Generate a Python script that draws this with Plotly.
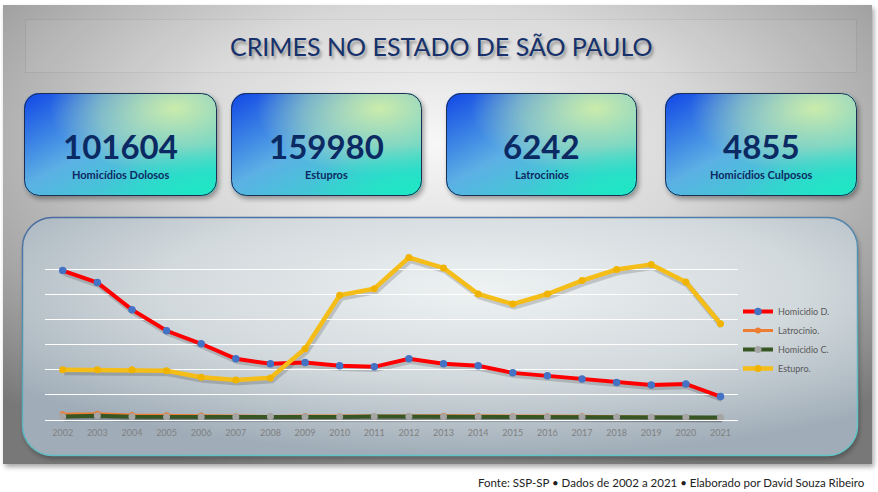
import base64
import plotly.graph_objects as go

years = list(range(2002, 2022))
homicidio_d = [11920, 10960, 8800, 7120, 6080, 4880, 4480, 4590, 4320, 4240,
               4880, 4480, 4320, 3760, 3520, 3280, 2990, 2800, 2880, 1870]
latrocinio = [460, 500, 400, 370, 350, 300, 280, 320, 300, 290,
              320, 340, 340, 300, 290, 300, 250, 230, 200, 180]
homicidio_c = [270, 330, 250, 240, 230, 230, 280, 250, 240, 280,
               280, 250, 260, 230, 240, 240, 230, 220, 210, 200]
estupro = [4000, 4000, 4000, 3920, 3410, 3200, 3360, 5680, 9950, 10480,
           12960, 12130, 10050, 9250, 10050, 11120, 12000, 12400, 11010, 7680]

kpi_values = ["101604", "159980", "6242", "4855"]
kpi_labels = ["Homicídios Dolosos", "Estupros", "Latrocinios", "Homicídios Culposos"]

title_text = "CRIMES NO ESTADO DE SÃO PAULO"
footer_text = "Fonte: SSP-SP \u2022 Dados de 2002 a 2021 \u2022 Elaborado por David Souza Ribeiro"

W, H = 878, 492
cards = [(24, 93, 193, 103), (231, 93, 191, 103), (446, 93, 191, 103), (665, 93, 192, 103)]

card_svg = ""
for (cx, cy, cw, ch) in cards:
    card_svg += f'<rect x="{cx+2}" y="{cy+3}" width="{cw}" height="{ch}" rx="15" fill="#000" opacity="0.35" filter="url(#blur)"/>'
    card_svg += f'<rect x="{cx}" y="{cy}" width="{cw}" height="{ch}" rx="15" fill="url(#cardbase)"/>'
    card_svg += f'<rect x="{cx}" y="{cy}" width="{cw}" height="{ch}" rx="15" fill="url(#cardglow)"/>'
    card_svg += f'<rect x="{cx}" y="{cy}" width="{cw}" height="{ch}" rx="15" fill="url(#cardteal)"/>'
    card_svg += f'<rect x="{cx+0.5}" y="{cy+0.5}" width="{cw-1}" height="{ch-1}" rx="15" fill="none" stroke="#1b2f55" stroke-width="1"/>'

svg = f'''<svg xmlns="http://www.w3.org/2000/svg" width="{W}" height="{H}" viewBox="0 0 {W} {H}">
<defs>
<radialGradient id="bg" cx="0.5" cy="0.3" r="0.75">
<stop offset="0" stop-color="#f7f7f7"/>
<stop offset="0.4" stop-color="#d8d8d8"/>
<stop offset="0.75" stop-color="#a5a5a5"/>
<stop offset="1" stop-color="#787878"/>
</radialGradient>
<linearGradient id="cardbase" x1="0" y1="0" x2="1" y2="1">
<stop offset="0" stop-color="#1046e6"/>
<stop offset="0.45" stop-color="#5cb0e4"/>
<stop offset="1" stop-color="#22e4c4"/>
</linearGradient>
<radialGradient id="cardglow" cx="0.78" cy="0.15" r="0.65">
<stop offset="0" stop-color="#d0efa8" stop-opacity="0.95"/>
<stop offset="0.6" stop-color="#bce8b0" stop-opacity="0.5"/>
<stop offset="1" stop-color="#bce8b0" stop-opacity="0"/>
</radialGradient>
<radialGradient id="cardteal" cx="0.9" cy="1.0" r="0.5">
<stop offset="0" stop-color="#1ee8c4" stop-opacity="0.9"/>
<stop offset="1" stop-color="#1ee8c4" stop-opacity="0"/>
</radialGradient>
<radialGradient id="chartbg" cx="0.55" cy="0.3" r="0.7">
<stop offset="0" stop-color="#eef2f3"/>
<stop offset="0.55" stop-color="#d2d9dc"/>
<stop offset="1" stop-color="#a0adb8"/>
</radialGradient>
<linearGradient id="chartstroke" x1="0" y1="0" x2="0.3" y2="1">
<stop offset="0" stop-color="#4a6ba0"/>
<stop offset="1" stop-color="#62c4c8"/>
</linearGradient>
<filter id="blur" x="-20%" y="-20%" width="140%" height="150%"><feGaussianBlur stdDeviation="2.5"/></filter>
</defs>
<rect width="{W}" height="{H}" fill="#ffffff"/>
<rect x="5" y="8" width="869" height="459" fill="#000" opacity="0.35" filter="url(#blur)"/>
<rect x="3" y="5" width="869" height="459" fill="url(#bg)"/>
<rect x="25.5" y="19.5" width="831" height="53" fill="#ffffff" opacity="0.05" stroke="#1a1a1a" stroke-width="1"/>
{card_svg}
<rect x="24" y="221" width="835" height="238" rx="30" fill="#000" opacity="0.3" filter="url(#blur)"/>
<rect x="22.5" y="217.5" width="835" height="238" rx="30" fill="url(#chartbg)" stroke="url(#chartstroke)" stroke-width="1.5"/>
</svg>'''

svg_uri = "data:image/svg+xml;base64," + base64.b64encode(svg.encode("utf-8")).decode("ascii")


def px_x(v):
    return v / W


def px_y(v):
    return 1 - v / H


fig = go.Figure()

series = [
    ("Homicidio D.", homicidio_d, "#ff0000", 4, "#4472c4", 7.5),
    ("Latrocinio.", latrocinio, "#ed7d31", 3, "#ed7d31", 6),
    ("Homicidio C.", homicidio_c, "#375623", 4, "#a5a5a5", 7),
    ("Estupro.", estupro, "#f5bd18", 4.5, "#f0b400", 7),
]
# soft drop shadow (same data, drawn on axes shifted a few pixels)
for name, vals, lc, lw, mc, ms in series:
    fig.add_trace(go.Scatter(
        x=years, y=vals, mode="lines", showlegend=False, hoverinfo="skip",
        line=dict(color="rgba(0,0,0,0.16)", width=lw + 1.5),
        xaxis="x", yaxis="y",
    ))
for name, vals, lc, lw, mc, ms in series:
    fig.add_trace(go.Scatter(
        x=years, y=vals, name=name, mode="lines+markers",
        line=dict(color=lc, width=lw),
        marker=dict(color=mc, size=ms),
        xaxis="x2", yaxis="y2",
    ))

annotations = [
    dict(text=title_text, x=px_x(441), y=px_y(46.5), xref="paper", yref="paper",
         showarrow=False, xanchor="center", yanchor="middle",
         font=dict(family="Lato", size=25, color="#16316b",
                   shadow="2px 3px 3px rgba(0,0,0,0.35)")),
    dict(text=footer_text, x=px_x(867), y=px_y(482), xref="paper", yref="paper",
         showarrow=False, xanchor="right", yanchor="middle",
         font=dict(family="Lato", size=11.5, color="#222222")),
]
for (cx, cy, cw, ch), val, lab in zip(cards, kpi_values, kpi_labels):
    annotations.append(dict(text=f"<b>{val}</b>", x=px_x(cx + cw / 2), y=px_y(146),
                            xref="paper", yref="paper", showarrow=False,
                            xanchor="center", yanchor="middle",
                            font=dict(family="Lato", size=33, color="#0b2a63")))
    annotations.append(dict(text=f"<b>{lab}</b>", x=px_x(cx + cw / 2), y=px_y(174),
                            xref="paper", yref="paper", showarrow=False,
                            xanchor="center", yanchor="middle",
                            font=dict(family="Lato", size=11, color="#0b2a63")))

x0, x1 = 45.4, 737.8
y0, y1 = 420, 244.5
dx, dy = 1.5, 2.5

fig.update_layout(
    width=W, height=H,
    margin=dict(l=0, r=0, t=0, b=0),
    paper_bgcolor="rgba(0,0,0,0)",
    plot_bgcolor="rgba(0,0,0,0)",
    images=[dict(source=svg_uri, xref="paper", yref="paper", x=0, y=1,
                 sizex=1, sizey=1, sizing="stretch", layer="below",
                 xanchor="left", yanchor="top")],
    annotations=annotations,
    showlegend=True,
    legend=dict(x=px_x(738), y=px_y(297), xanchor="left", yanchor="top",
                bgcolor="rgba(0,0,0,0)", borderwidth=0,
                font=dict(family="Lato", size=9, color="#595959")),
    xaxis=dict(domain=[px_x(x0 + dx), px_x(x1 + dx)], range=[2001.5, 2021.5],
               visible=False, fixedrange=True),
    yaxis=dict(domain=[px_y(y0 + dy), px_y(y1 + dy)], range=[0, 14000],
               visible=False, fixedrange=True),
    xaxis2=dict(domain=[px_x(x0), px_x(x1)], range=[2001.5, 2021.5], anchor="y2",
                tickvals=years, ticktext=[str(y) for y in years],
                showgrid=False, zeroline=False, showline=False,
                tickfont=dict(family="Lato", size=9, color="#808080"),
                ticks="", ticklabelstandoff=6, fixedrange=True),
    yaxis2=dict(domain=[px_y(y0), px_y(y1)], range=[0, 14000], dtick=2000, anchor="x2",
                showgrid=True, gridcolor="#ffffff", gridwidth=1,
                zeroline=True, zerolinecolor="#ffffff", zerolinewidth=1,
                showticklabels=False, ticks="", showline=False, fixedrange=True),
    hovermode=False,
)

fig.write_html("out.html")
